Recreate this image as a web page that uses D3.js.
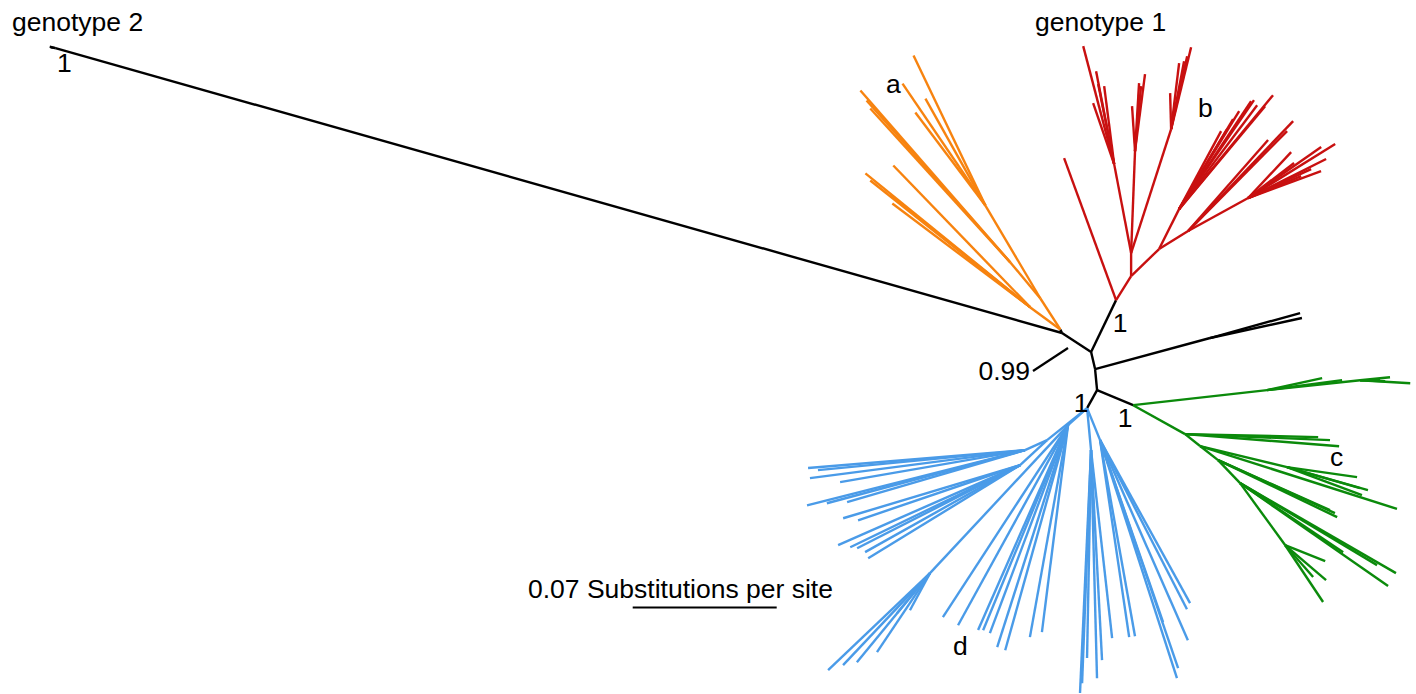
<!DOCTYPE html>
<html>
<head>
<meta charset="utf-8">
<script src="https://cdn.jsdelivr.net/npm/d3@7"></script>
<style>
  body { margin: 0; background: #fff; }
  svg text { font-family: "Liberation Sans", Arial, sans-serif; font-size: 26.5px; fill: #000; }
</style>
</head>
<body>
<svg width="1416" height="694"></svg>
<script>
// each row: [node, parent, branch length (substitutions/site), angle (deg, 0 = right, ccw)]
const backbone = [
  ["A", null, 0, 0],
  ["g2n", "A", 0.5085, 164.2],
  ["g2t1", "g2n", 0.0029, 164.2],
  ["g2t2", "g2n", 0.0024, 170],
  ["O0", "A", 0.0019, 115],
  ["B", "A", 0.0169, -33.2],
  ["R0", "B", 0.0280, 64.3],
  ["C", "B", 0.0085, -76.8],
  ["K", "C", 0.0579, 15.1],
  ["k1", "K", 0.0454, 15.5],
  ["k2", "K", 0.0457, 12.3],
  ["D", "C", 0.0103, -84.6],
  ["Bl0", "D", 0.0100, -119.1],
  ["G0", "D", 0.0190, -22.6]
];

const cladeA = [
  ["O1", "O0", 0.0179, 122.8],
  ["O3", "O1", 0.0525, 120.6],
  ["a1", "O3", 0.0809, 115.6],
  ["a2", "O3", 0.0596, 119.3],
  ["a3", "O3", 0.0717, 124.2],
  ["a4", "O3", 0.0566, 127.0],
  ["O5", "O1", 0.0228, 129.8],
  ["a5", "O5", 0.1109, 131.1],
  ["a6", "O5", 0.1012, 132.3],
  ["a7", "O5", 0.1053, 131.6],
  ["O2", "O0", 0.0181, 143.7],
  ["a8", "O2", 0.0959, 134.0],
  ["a9", "O2", 0.1033, 140.9],
  ["a10", "O2", 0.0872, 141.3],
  ["a11", "O2", 0.0840, 143.0],
  ["a12", "O2", 0.0993, 141.6]
];

const cladeB = [
  ["b0", "R0", 0.0735, 110.1],
  ["R1", "R0", 0.0138, 58.0],
  ["R2", "R1", 0.0112, 90],
  ["R3", "R1", 0.0189, 44.0],
  ["R2a", "R2", 0.0440, 100.8],
  ["b1", "R2a", 0.0593, 104.7],
  ["b2", "R2a", 0.0460, 101.0],
  ["b3", "R2a", 0.0397, 101.3],
  ["b4", "R2a", 0.0314, 109.0],
  ["b5", "R2a", 0.0382, 97.3],
  ["R2b", "R2", 0.0496, 87.8],
  ["b6", "R2b", 0.0219, 93.8],
  ["b7", "R2b", 0.0331, 86.6],
  ["b8", "R2b", 0.0377, 82.6],
  ["b9", "R2b", 0.0317, 84.7],
  ["R2c", "R2", 0.0633, 72.1],
  ["b10", "R2c", 0.0410, 76.3],
  ["b11", "R2c", 0.0363, 77.6],
  ["b12", "R2c", 0.0336, 79.2],
  ["b13", "R2c", 0.0323, 83.1],
  ["b14", "R2c", 0.0175, 91.6],
  ["R5", "R3", 0.0217, 63.4],
  ["b15", "R5", 0.0431, 61.7],
  ["b16", "R5", 0.0454, 59.0],
  ["b17", "R5", 0.0510, 59.0],
  ["b18", "R5", 0.0559, 58.5],
  ["b19", "R5", 0.0631, 56.3],
  ["b20", "R5", 0.0643, 55.5],
  ["b21", "R5", 0.0632, 53.1],
  ["b22", "R5", 0.0652, 50.1],
  ["b23", "R5", 0.0718, 50.5],
  ["R4", "R3", 0.0166, 31.8],
  ["b24", "R4", 0.0739, 46.3],
  ["b25", "R4", 0.0684, 45.3],
  ["b26", "R4", 0.0589, 48.7],
  ["R4a", "R4", 0.0333, 28.8],
  ["b27", "R4a", 0.0306, 46.9],
  ["b28", "R4a", 0.0498, 31.8],
  ["b29", "R4a", 0.0433, 34.9],
  ["b30", "R4a", 0.0424, 26.6],
  ["b31", "R4a", 0.0378, 20.3],
  ["b32", "R4a", 0.0279, 22.5],
  ["b33", "R4a", 0.0337, 24.7],
  ["b34", "R4a", 0.0281, 37.3]
];

const cladeC = [
  ["Gu", "G0", 0.0655, 6.4],
  ["c1", "Gu", 0.0274, 12.3],
  ["c2", "Gu", 0.0368, 7.6],
  ["Gu2", "Gu", 0.0455, 6.1],
  ["c3", "Gu2", 0.0146, 5.7],
  ["c4", "Gu2", 0.0097, 0],
  ["c5", "Gu2", 0.0244, -3.4],
  ["c6", "Gu2", 0.0122, -2.3],
  ["G1", "G0", 0.0289, -29.1],
  ["c7", "G1", 0.0647, -1.3],
  ["c8", "G1", 0.0751, -4.5],
  ["c9", "G1", 0.0705, -2.4],
  ["G2", "G1", 0.0093, -38.7],
  ["G2a", "G2", 0.0435, -13.6],
  ["c10", "G2a", 0.0344, -8.1],
  ["c11", "G2a", 0.0409, -15.9],
  ["c12", "G2a", 0.0389, -20.5],
  ["c13", "G2a", 0.0369, -16.1],
  ["c14", "G2", 0.1005, -17.7],
  ["G3", "G2", 0.0111, -37.9],
  ["c15", "G3", 0.0642, -25.6],
  ["c16", "G3", 0.0624, -24.4],
  ["c17", "G3", 0.0596, -24.1],
  ["G4", "G3", 0.0155, -46.3],
  ["c18", "G4", 0.0875, -30.0],
  ["c19", "G4", 0.0776, -30.9],
  ["c20", "G4", 0.0876, -34.8],
  ["c21", "G4", 0.0603, -33.8],
  ["G5", "G4", 0.0372, -54.0],
  ["c22", "G5", 0.0210, -21.8],
  ["c23", "G5", 0.0207, -48.8],
  ["c24", "G5", 0.0262, -40.5],
  ["c25", "G5", 0.0333, -56.3]
];

const cladeD = [
  ["B1", "Bl0", 0.0249, 218.7],
  ["B1a", "B1", 0.0118, 204.4],
  ["d1", "B1a", 0.1058, 184.7],
  ["d2", "B1a", 0.1054, 187.4],
  ["d3", "B1a", 0.1011, 185.5],
  ["d4", "B1a", 0.0912, 189.8],
  ["d5", "B1a", 0.1093, 194.2],
  ["d6", "B1a", 0.0997, 195.0],
  ["d7", "B1a", 0.0901, 196.3],
  ["B1b", "B1", 0.0179, 222.8],
  ["d8", "B1b", 0.0898, 196.7],
  ["d9", "B1b", 0.0832, 198.8],
  ["d10", "B1b", 0.0966, 203.7],
  ["d11", "B1b", 0.0917, 205.8],
  ["d12", "B1b", 0.0889, 207.0],
  ["d13", "B1b", 0.0864, 209.3],
  ["d14", "B1b", 0.0866, 211.5],
  ["B2", "Bl0", 0.0124, 221.8],
  ["B2a", "B2", 0.0984, 227.0],
  ["d15", "B2a", 0.0684, 223.6],
  ["d16", "B2a", 0.0615, 226.6],
  ["d17", "B2a", 0.0560, 230.6],
  ["d18", "B2a", 0.0462, 236.1],
  ["d19", "B2a", 0.0205, 241.6],
  ["d20", "B2a", 0.0252, 230.5],
  ["d21", "B2", 0.1114, 236.9],
  ["d22", "B2", 0.1110, 241.2],
  ["d23", "B2", 0.1088, 246.3],
  ["d24", "B2", 0.1080, 249.4],
  ["d25", "B2", 0.1133, 252.3],
  ["d26", "B2", 0.1136, 254.4],
  ["d27", "B2", 0.1014, 262.8],
  ["d28", "B2", 0.1047, 259.8],
  ["d29", "B2", 0.1079, 247.5],
  ["B3", "Bl0", 0.0205, 275.4],
  ["d30", "B3", 0.1182, 267.4],
  ["d31", "B3", 0.1011, 268.9],
  ["d32", "B3", 0.1109, 271.5],
  ["d33", "B3", 0.1022, 273.0],
  ["d34", "B3", 0.0920, 276.4],
  ["d35", "B3", 0.1134, 267.8],
  ["B4", "Bl0", 0.0168, 292.1],
  ["d36", "B4", 0.0968, 278.4],
  ["d37", "B4", 0.0968, 280.1],
  ["d38", "B4", 0.0936, 289.1],
  ["d39", "B4", 0.1216, 287.9],
  ["d40", "B4", 0.1171, 288.9],
  ["d41", "B4", 0.1062, 293.7],
  ["d42", "B4", 0.0924, 297.2],
  ["d43", "B4", 0.0905, 298.9]
];

// support values: [node, label]
const supports = [["g2n", "1"], ["R0", "1"], ["Bl0", "1"], ["G0", "1"], ["A", "0.99"]];
const cladeNames = ["a", "b", "c", "d"];
const scaleBarValue = 0.07;

const svg = d3.select("svg");

const colors = { backbone: "#000000", a: "#f7830f", b: "#c81010", c: "#0b8a0b", d: "#4a9be8" };

// compute node positions in substitution units
const rows = [];
backbone.forEach(r => rows.push({ r, clade: "backbone" }));
cladeA.forEach(r => rows.push({ r, clade: "a" }));
cladeB.forEach(r => rows.push({ r, clade: "b" }));
cladeC.forEach(r => rows.push({ r, clade: "c" }));
cladeD.forEach(r => rows.push({ r, clade: "d" }));

const pos = {};
const edges = [];
rows.forEach(function(d) {
  const [id, parent, len, ang] = d.r;
  if (!parent) { pos[id] = { x: 0, y: 0 }; return; }
  const p = pos[parent];
  const a = ang * Math.PI / 180;
  pos[id] = { x: p.x + len * Math.cos(a), y: p.y + len * Math.sin(a) };
  edges.push({ from: p, to: pos[id], clade: d.clade });
});

// root placed at (1062, 333), 144 px per 0.07 substitutions
const x = d3.scaleLinear().domain([0, scaleBarValue]).range([1062, 1062 + 144]);
const y = d3.scaleLinear().domain([0, scaleBarValue]).range([333, 333 - 144]);

svg.append("g").selectAll("line")
  .data(edges)
  .join("line")
  .attr("x1", d => x(d.from.x))
  .attr("y1", d => y(d.from.y))
  .attr("x2", d => x(d.to.x))
  .attr("y2", d => y(d.to.y))
  .attr("stroke", d => colors[d.clade])
  .attr("stroke-width", 2.4)
  .attr("stroke-linecap", "butt");

// support labels
const supOffset = { g2n: [9, 24, "middle"], R0: [4, 32, "middle"], Bl0: [-6, 4, "middle"], G0: [-8, 22, "middle"], A: [-32, 47, "end"] };
svg.append("g").selectAll("text")
  .data(supports)
  .join("text")
  .attr("x", d => x(pos[d[0]].x) + supOffset[d[0]][0])
  .attr("y", d => y(pos[d[0]].y) + supOffset[d[0]][1])
  .attr("text-anchor", d => supOffset[d[0]][2])
  .text(d => d[1]);

// leader line for 0.99
const ax = x(pos.A.x), ay = y(pos.A.y);
svg.append("line")
  .attr("x1", ax - 29).attr("y1", ay + 38)
  .attr("x2", ax + 6).attr("y2", ay + 15)
  .attr("stroke", "#000").attr("stroke-width", 2.2);

// clade and genotype labels
const labelPos = [[886, 93], [1198, 117], [1330, 466], [953, 655]];
svg.append("g").selectAll("text")
  .data(cladeNames)
  .join("text")
  .attr("x", (d, i) => labelPos[i][0])
  .attr("y", (d, i) => labelPos[i][1])
  .text(d => d);

svg.append("text").attr("x", 12).attr("y", 31).text("genotype 2");
svg.append("text").attr("x", 1035).attr("y", 31).text("genotype 1");

// scale bar
const sbX = 632.7 - x(0);
svg.append("line")
  .attr("x1", x(0) + sbX).attr("x2", x(scaleBarValue) + sbX)
  .attr("y1", 607.5).attr("y2", 607.5)
  .attr("stroke", "#000").attr("stroke-width", 2.2);
svg.append("text").attr("x", 528).attr("y", 598).text(scaleBarValue + " Substitutions per site");
</script>
</body>
</html>
